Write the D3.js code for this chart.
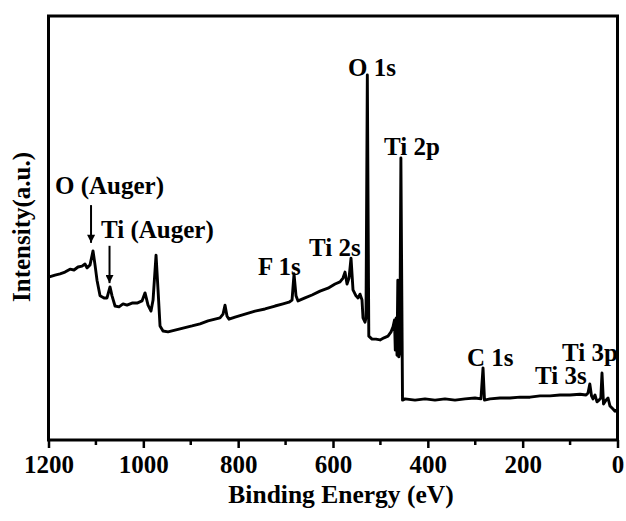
<!DOCTYPE html>
<html>
<head>
<meta charset="utf-8">
<script src="https://cdn.jsdelivr.net/npm/d3@7"></script>
<style>
  html, body { margin: 0; padding: 0; background: #fff; }
  svg { display: block; }
  text { font-family: "Liberation Serif", "Times New Roman", serif; font-weight: bold; fill: #000; }
</style>
</head>
<body>
<svg id="chart" width="626" height="521"></svg>
<script>
// XPS survey spectrum: binding energy (eV) and intensity (a.u.)
const bindingEnergy = [
  1200.0, 1186.2, 1175.7, 1165.2, 1154.6, 1146.2, 1137.8, 1129.3, 1123.0, 1118.8,
  1112.4, 1106.1, 1101.9, 1097.7, 1091.3, 1082.9, 1076.6, 1070.3, 1066.0, 1059.7,
  1051.3, 1042.8, 1034.4, 1023.8, 1013.3, 1002.8, 996.4, 990.1, 983.8, 979.5,
  973.2, 969.0, 964.8, 958.5, 947.9, 933.2, 916.3, 897.3, 880.4, 863.6,
  848.8, 838.3, 831.9, 827.7, 823.5, 819.3, 806.6, 785.5, 764.4, 743.4,
  722.3, 705.4, 692.8, 686.4, 682.2, 678.0, 673.8, 659.0, 644.2, 627.4,
  610.5, 595.7, 585.2, 578.9, 574.7, 570.4, 566.2, 562.0, 557.8, 551.5,
  547.2, 543.0, 538.8, 536.7, 532.5, 530.4, 527.6, 524.5, 517.7, 509.3,
  500.8, 492.4, 484.0, 477.6, 473.4, 470.3, 468.6, 466.7, 465.0, 463.3,
  461.2, 459.1, 456.8, 453.4, 448.1, 427.0, 405.9, 384.9, 363.8, 342.7,
  321.6, 300.5, 287.9, 283.6, 280.5, 268.9, 247.8, 226.7, 205.6, 184.5,
  163.4, 142.3, 121.3, 100.2, 79.1, 66.4, 62.2, 58.4, 54.8, 51.7,
  47.4, 43.2, 39.0, 35.2, 32.7, 29.5, 24.3, 20.0, 15.8, 9.5,
  5.3, 0.0
];
const intensity = [
  38.4, 38.9, 39.2, 39.6, 40.3, 40.1, 40.8, 41.0, 41.5, 40.6,
  41.3, 44.6, 41.3, 37.7, 34.0, 33.5, 33.5, 36.1, 34.0, 31.6,
  31.4, 32.1, 31.8, 32.3, 32.3, 32.8, 34.7, 31.8, 30.4, 33.0,
  43.6, 35.4, 26.9, 25.7, 25.5, 25.9, 26.4, 26.9, 27.4, 28.1,
  28.5, 28.8, 29.7, 31.8, 29.2, 28.5, 29.0, 29.7, 30.4, 30.9,
  31.6, 32.1, 32.5, 33.0, 39.2, 34.0, 32.8, 33.5, 34.2, 35.1,
  35.8, 36.8, 37.3, 38.2, 39.6, 36.8, 38.2, 42.9, 35.4, 34.0,
  33.5, 34.4, 33.0, 28.8, 27.8, 28.8, 86.1, 24.5, 23.8, 23.8,
  23.6, 24.1, 24.5, 25.5, 26.7, 28.3, 21.2, 28.8, 20.0, 37.7,
  19.6, 20.8, 66.5, 9.4, 9.7, 9.4, 9.7, 9.4, 9.7, 9.4,
  9.7, 9.9, 9.7, 17.0, 9.4, 9.7, 9.9, 9.9, 10.1, 10.1,
  10.4, 10.4, 10.6, 10.6, 10.8, 10.6, 11.1, 13.2, 10.4, 9.7,
  10.6, 9.0, 9.4, 9.9, 15.8, 8.5, 9.4, 9.9, 8.0, 7.3,
  6.8, 7.1
];

// Axis ticks
const majorTicks = [1200, 1000, 800, 600, 400, 200, 0];
const minorTicks = [1100, 900, 700, 500, 300, 100];

// Peak assignments: label text and its anchor in (eV, a.u.)
const peakLabels = ["O (Auger)", "Ti (Auger)", "F 1s", "Ti 2s", "O 1s", "Ti 2p", "C 1s", "Ti 3s", "Ti 3p"];
const labelEnergy = [1186.2, 1089.3, 758.1, 650.6, 568.3, 492.4, 317.4, 174.0, 117.0];
const labelIntensity = [58.0, 47.6, 38.9, 43.4, 85.8, 67.2, 17.5, 13.2, 18.6];

// Arrows pointing at the Auger features: energy, start and end intensity
const arrowEnergy = [1110.3, 1071.3];
const arrowFrom = [55.4, 45.8];
const arrowTo = [46.5, 37.0];

const svg = d3.select("#chart");
const frame = { left: 48.5, right: 617.5, top: 16, bottom: 440 };

const x = d3.scaleLinear().domain([1200, 0]).range([frame.left, frame.right]);
const y = d3.scaleLinear().domain([0, 100]).range([frame.bottom, frame.top]);

const points = bindingEnergy.map((e, i) => [e, intensity[i]]);

// Spectrum
svg.append("path")
  .datum(points)
  .attr("fill", "none")
  .attr("stroke", "#000")
  .attr("stroke-width", 2.9)
  .attr("stroke-linejoin", "round")
  .attr("stroke-linecap", "round")
  .attr("d", d3.line().x(d => x(d[0])).y(d => y(d[1])));

// Frame
svg.append("rect")
  .attr("x", frame.left).attr("y", frame.top)
  .attr("width", frame.right - frame.left).attr("height", frame.bottom - frame.top)
  .attr("fill", "none").attr("stroke", "#000").attr("stroke-width", 3);

// Bottom axis
const xAxis = svg.append("g")
  .attr("transform", `translate(0,${frame.bottom})`)
  .call(d3.axisBottom(x).tickValues(majorTicks).tickSize(8).tickPadding(6).tickFormat(d3.format("d")));
xAxis.select(".domain").remove();
xAxis.selectAll(".tick line").attr("stroke", "#000").attr("stroke-width", 2.5);
xAxis.selectAll(".tick text")
  .attr("font-size", 25)
  .attr("font-family", "'Liberation Serif', 'Times New Roman', serif")
  .attr("font-weight", "bold")
  .attr("fill", "#000")
  .attr("dy", null)
  .attr("y", 33);

svg.append("g")
  .selectAll("line")
  .data(minorTicks)
  .join("line")
  .attr("x1", d => x(d)).attr("x2", d => x(d))
  .attr("y1", frame.bottom).attr("y2", frame.bottom + 5)
  .attr("stroke", "#000").attr("stroke-width", 2.5);

// Axis titles
svg.append("text")
  .attr("x", 341).attr("y", 503)
  .attr("text-anchor", "middle")
  .attr("font-size", 25.5)
  .text("Binding Energy (eV)");

svg.append("text")
  .attr("transform", "translate(30,227) rotate(-90)")
  .attr("text-anchor", "middle")
  .attr("font-size", 25)
  .text("Intensity(a.u.)");

// Peak labels
svg.append("g")
  .selectAll("text")
  .data(peakLabels)
  .join("text")
  .attr("x", (d, i) => x(labelEnergy[i]))
  .attr("y", (d, i) => y(labelIntensity[i]))
  .attr("font-size", 25)
  .text(d => d);

// Arrows
svg.append("defs").append("marker")
  .attr("id", "head")
  .attr("viewBox", "0 0 10 10")
  .attr("refX", 10).attr("refY", 5)
  .attr("markerWidth", 11).attr("markerHeight", 8)
  .attr("markerUnits", "userSpaceOnUse")
  .attr("orient", "auto")
  .append("path")
  .attr("d", "M0,0 L10,5 L0,10 Z")
  .attr("fill", "#000");

svg.append("g")
  .selectAll("line")
  .data(arrowEnergy)
  .join("line")
  .attr("x1", d => x(d)).attr("x2", d => x(d))
  .attr("y1", (d, i) => y(arrowFrom[i]))
  .attr("y2", (d, i) => y(arrowTo[i]))
  .attr("stroke", "#000").attr("stroke-width", 2)
  .attr("marker-end", "url(#head)");
</script>
</body>
</html>
